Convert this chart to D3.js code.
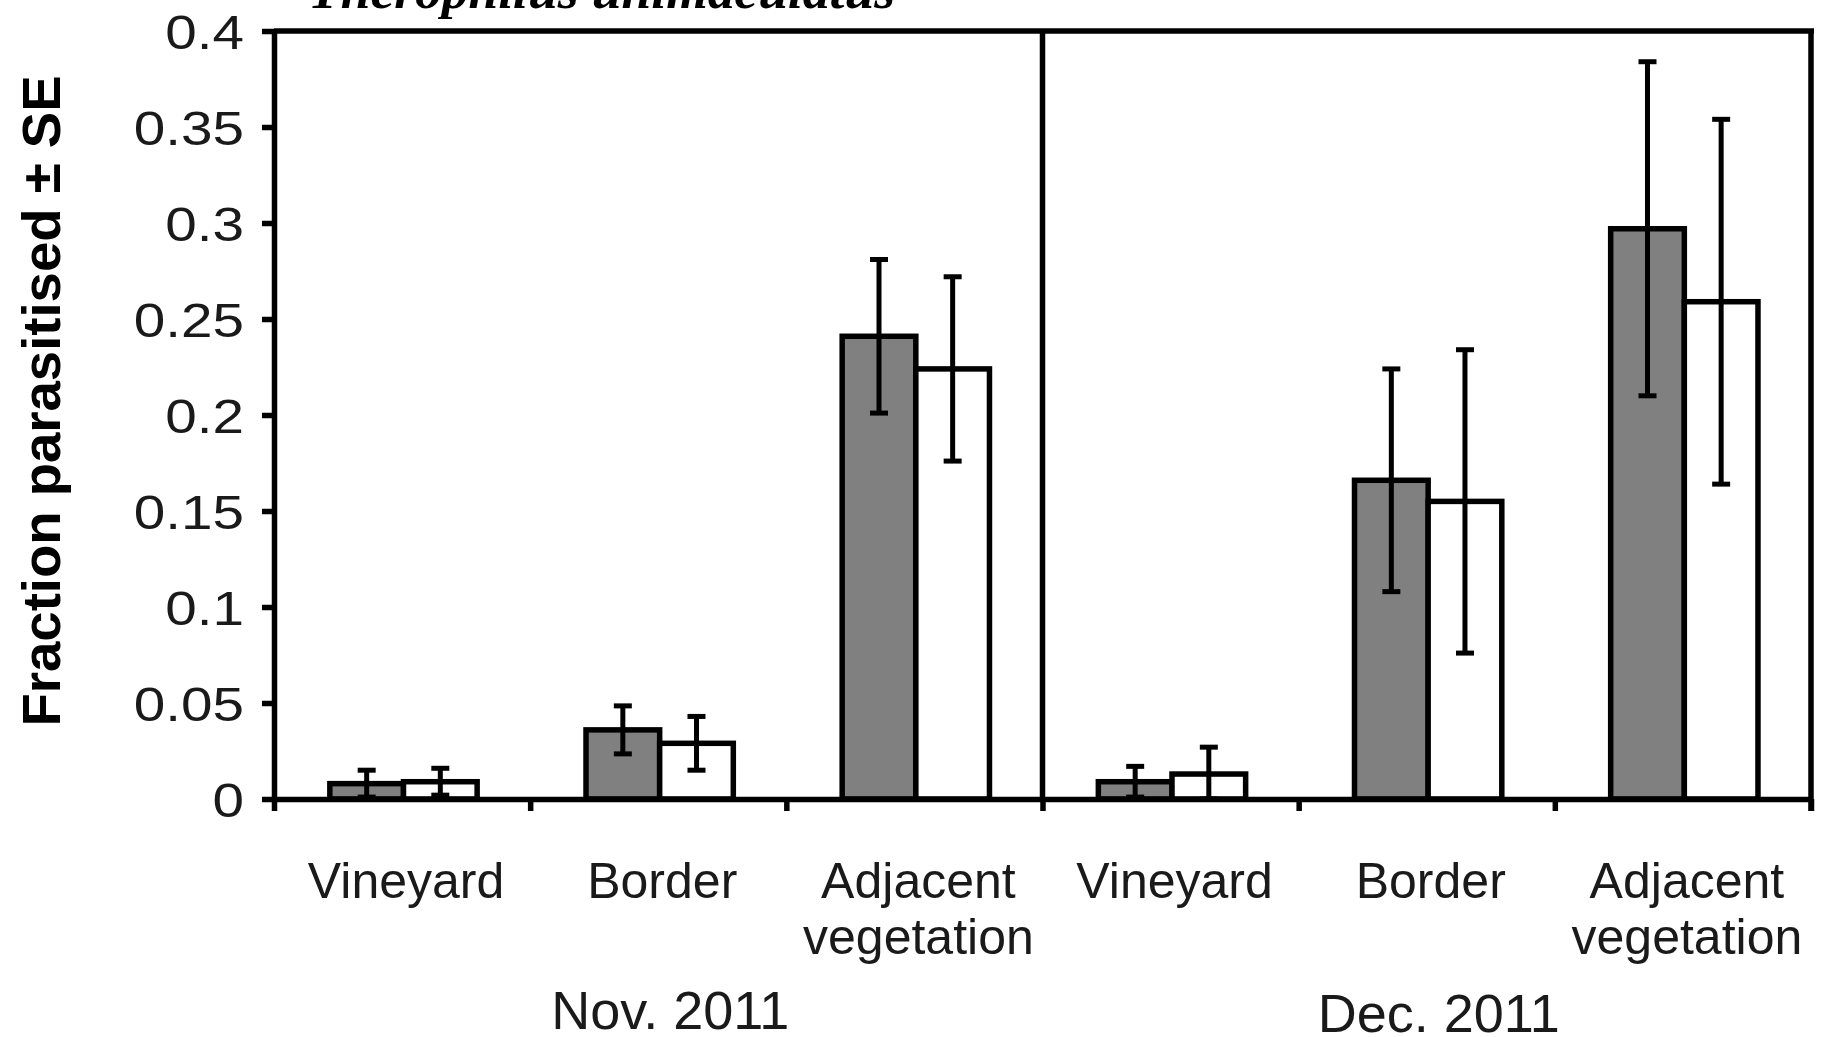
<!doctype html>
<html lang="en">
<head>
    <meta charset="utf-8">
    <title>Fraction parasitised</title>
    <script src="https://d3js.org/d3.v7.min.js"></script>
    <style>
        body { margin: 0; background: #fff; }
        svg { display: block; }
    </style>
</head>
<body>
    <script>
       // values
       const periods = ["Nov. 2011", "Dec. 2011"];
       const habitats = [["Vineyard"], ["Border"], ["Adjacent", "vegetation"]];
       const grayMeans = [0.008, 0.036, 0.241, 0.009, 0.166, 0.297];
       const graySE    = [0.007, 0.0125, 0.040, 0.008, 0.058, 0.087];
       const whiteMeans = [0.009, 0.029, 0.224, 0.013, 0.155, 0.259];
       const whiteSE    = [0.007, 0.014, 0.048, 0.014, 0.079, 0.095];
       const yTicks = [0, 0.05, 0.1, 0.15, 0.2, 0.25, 0.3, 0.35, 0.4];
       const yTickLabels = ["0", "0.05", "0.1", "0.15", "0.2", "0.25", "0.3", "0.35", "0.4"];

       let width = 1823, height = 1037;
       let plotL = 274, plotR = 1811, plotT = 31, plotB = 799;

       let svg = d3.select('body').append('svg')
                   .attr('width', width).attr('height', height);

       let cats = d3.range(periods.length * habitats.length);
       let x = d3.scaleBand().domain(cats).range([plotL, plotR]).padding(0);
       let xEdge = d3.scaleLinear().domain([0, cats.length]).range([plotL, plotR]);
       let inner = d3.scaleBand().domain(['gray', 'white'])
                     .range([x.bandwidth() * 0.218, x.bandwidth() * 0.793]);
       let y = d3.scaleLinear().domain([0, 0.4]).range([plotB, plotT]);

       let rows = cats.map(i => [
           {cat: i, s: 'gray', v: grayMeans[i], se: graySE[i]},
           {cat: i, s: 'white', v: whiteMeans[i], se: whiteSE[i]}
       ]).flat();

       // bars
       svg.append('g').selectAll('rect').data(rows).enter().append('rect')
          .attr('x', d => x(d.cat) + inner(d.s))
          .attr('y', d => y(d.v))
          .attr('width', inner.bandwidth())
          .attr('height', d => y(0) - y(d.v))
          .style('fill', d => d.s == 'gray' ? '#808080' : '#fff')
          .style('stroke', '#000')
          .style('stroke-width', 5.5);

       // error bars
       let err = svg.append('g').selectAll('g').data(rows).enter().append('g')
                    .attr('transform', d => `translate(${x(d.cat) + inner(d.s) + inner.bandwidth() / 2},0)`)
                    .style('stroke', '#000').style('stroke-width', 5);
       err.append('line')
          .attr('y1', d => y(Math.max(0, d.v - d.se))).attr('y2', d => y(d.v + d.se));
       err.append('line').attr('x1', -9).attr('x2', 9)
          .attr('y1', d => y(d.v + d.se)).attr('y2', d => y(d.v + d.se));
       err.append('line').attr('x1', -9).attr('x2', 9)
          .attr('y1', d => y(Math.max(0, d.v - d.se))).attr('y2', d => y(Math.max(0, d.v - d.se)));

       // frame
       svg.append('line').attr('x1', plotL).attr('x2', plotR + 3)
          .attr('y1', plotT).attr('y2', plotT)
          .style('stroke', '#000').style('stroke-width', 5.5);
       svg.append('line').attr('x1', plotR).attr('x2', plotR)
          .attr('y1', plotT).attr('y2', plotB + 12)
          .style('stroke', '#000').style('stroke-width', 5.5);
       svg.append('line').attr('x1', xEdge(3)).attr('x2', xEdge(3))
          .attr('y1', plotT).attr('y2', plotB)
          .style('stroke', '#000').style('stroke-width', 5.5);

       // x axis
       let xAxis = svg.append('g').attr('transform', `translate(0,${plotB})`)
          .call(d3.axisBottom(xEdge).tickValues(d3.range(cats.length + 1))
                .tickFormat('').tickSizeInner(12).tickSizeOuter(0));
       xAxis.selectAll('path, line').style('stroke', '#000').style('stroke-width', 5.5);

       // y axis
       let yAxis = svg.append('g').attr('transform', `translate(${plotL},0)`)
          .call(d3.axisLeft(y).tickValues(yTicks).tickFormat((d, i) => yTickLabels[i])
                .tickSizeInner(12).tickSizeOuter(0).tickPadding(18));
       yAxis.selectAll('path, line').style('stroke', '#000').style('stroke-width', 5.5);
       yAxis.selectAll('text')
            .style('font-family', 'Liberation Sans, Arial, sans-serif')
            .style('font-size', '48px').style('fill', '#1a1a1a')
            .attr('dy', '0.36em')
            .each(function () {
                let w = this.getComputedTextLength();
                d3.select(this).attr('textLength', w * 1.18).attr('lengthAdjust', 'spacingAndGlyphs');
            });

       // category labels
       let labels = svg.append('g')
                       .style('font-family', 'Liberation Sans, Arial, sans-serif')
                       .style('font-size', '50px').style('fill', '#1a1a1a')
                       .attr('text-anchor', 'middle');
       cats.forEach(i => {
           let lines = habitats[i % habitats.length];
           lines.forEach((t, j) => {
               labels.append('text')
                     .attr('x', x(i) + x.bandwidth() / 2 + 4)
                     .attr('y', 898 + j * 56)
                     .text(t);
           });
       });
       periods.forEach((p, k) => {
           labels.append('text')
                 .attr('x', x(k * 3 + 1) + x.bandwidth() / 2 + 12)
                 .attr('y', 1029 + k * 3)
                 .style('font-size', '54px')
                 .text(p);
       });

       // y title
       svg.append('text')
          .attr('transform', 'translate(60,401) rotate(-90)')
          .attr('text-anchor', 'middle')
          .style('font-family', 'Liberation Sans, Arial, sans-serif')
          .style('font-weight', 'bold').style('font-size', '54px')
          .attr('textLength', 651).attr('lengthAdjust', 'spacingAndGlyphs')
          .text('Fraction parasitised ± SE');

       // species name, cut by the top edge
       svg.append('text')
          .attr('x', 308).attr('y', 8)
          .style('font-family', 'Liberation Serif, Times New Roman, serif')
          .style('font-weight', 'bold').style('font-style', 'italic')
          .style('font-size', '52px')
          .attr('textLength', 587).attr('lengthAdjust', 'spacingAndGlyphs')
          .text('Therophilus unimaculatus');
    </script>
</body>
</html>
